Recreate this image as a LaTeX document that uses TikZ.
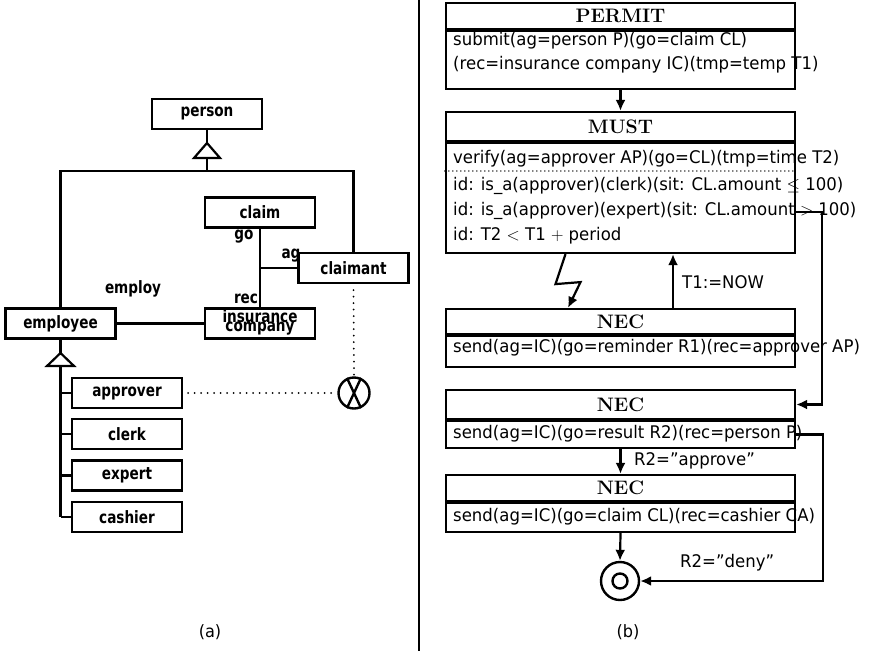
\documentclass[tikz,border=0pt]{standalone}
\usepackage{fontspec}
\newfontfamily\rsf[Ligatures=TeX,FakeStretch=0.95]{DejaVu Sans}
\newfontfamily\lsf[FakeStretch=0.8]{DejaVu Sans}
\usetikzlibrary{arrows.meta,calc}
\begin{document}
\begin{tikzpicture}[x=1pt,y=-1pt,
  ln/.style={line width=2.2pt},
  lbox/.style={draw,line width=2.2pt,minimum width=110pt,minimum height=30pt,inner sep=0pt,font=\lsf\bfseries\fontsize{17}{18}\selectfont},
  lbl/.style={inner sep=0pt,font=\lsf\bfseries\fontsize{17}{18}\selectfont},
  hdr/.style={draw,line width=2.2pt,minimum width=349pt,inner sep=0pt,font=\fontsize{19.5}{20}\selectfont\bfseries},
  bdy/.style={draw,line width=2.2pt,minimum width=349pt,inner sep=0pt},
  txt/.style={anchor=base west,inner sep=0pt,font=\rsf\fontsize{17.4}{18}\selectfont},
  arr/.style={line width=2.2pt,-{Latex[length=11pt,width=10pt]}},
  dots/.style={line width=2pt,dash pattern=on 0pt off 6.5pt,line cap=round},
]
\useasboundingbox[fill=white] (0,0) rectangle (874,651);

% ---------------- (a) ----------------
\node[lbox] (person) at (207,114) {person};
\node[lbox] (claim) at (260,212.5) {claim};
\node[lbox] (claimant) at (353.5,268) {claimant};
\node[lbox] (employee) at (60.5,323.5) {employee};
\node[lbox] (inscomp) at (260,323.5) {};
\node[lbl,anchor=base] (ins1) at (260,322) {insurance};
\node[lbl,anchor=base] (ins2) at (260,331) {company};
\node[lbox] (approver) at (127,393) {approver};
\node[lbox] (clerk) at (127,434) {clerk};
\node[lbox] (expert) at (127,475.5) {expert};
\node[lbox] (cashier) at (127,517) {cashier};

\node[lbl] (lgo) at (244,237) {go};
\node[lbl] (lag) at (291,256) {ag};
\node[lbl] (lrec) at (246,299) {rec};
\node[lbl] (lemploy) at (133,289) {employ};

\coordinate (t1a) at (207,143);
\coordinate (t1b) at (207,158);
\coordinate (hj) at (207,171);
\draw[ln] (person.south) -- (t1a);
\draw[ln,fill=white] (194,158) -- (t1a) -- (220,158) -- cycle;
\draw[ln] (t1b) -- (hj);
\draw[ln] (employee.north) |- (hj) -| (claimant.north);
\draw[ln] (claim.south) -- (inscomp.north);
\draw[ln] (claimant.west) -- (claimant.west -| claim.south);
\draw[ln] (employee.east) -- (inscomp.west);

\coordinate (t2a) at (60.5,353);
\coordinate (t2b) at (60.5,366);
\draw[ln] (employee.south) -- (t2a);
\draw[ln,fill=white] (47,366) -- (t2a) -- (74,366) -- cycle;
\draw[ln] (t2b) -- (t2b |- cashier.west);
\foreach \b in {approver,clerk,expert,cashier}
  \draw[ln] (\b.west) -- (\b.west -| t2b);

\node[draw,circle,line width=2.4pt,minimum size=31pt,inner sep=0pt] (xc) at (354,393) {};
\draw[line width=2.4pt] (xc.115) -- (xc.-65) (xc.65) -- (xc.-115);
\draw[dots] ([xshift=5pt]approver.east) -- (xc.west);
\draw[dots] ([yshift=-6pt]claimant.south) -- (xc.north);

\node[inner sep=0pt,font=\rsf\fontsize{17}{18}\selectfont] (capa) at (210,632) {(a)};

% separator
\coordinate (s1) at (419,0);
\coordinate (s2) at (419,651);
\draw[line width=2pt] (s1) -- (s2);

% ---------------- (b) ----------------
\node[hdr,minimum height=26pt] (pH) at (620.5,16) {PERMIT};
\node[bdy,minimum height=58pt] (pB) at (620.5,60) {};
\node[txt] (pt1) at (453,45) {submit(ag=person P)(go=claim CL)};
\node[txt] (pt2) at (453,69) {(rec=insurance company IC)(tmp=temp T1)};

\node[hdr,minimum height=29pt] (mH) at (620.5,126.5) {MUST};
\node[bdy,minimum height=110pt] (mB) at (620.5,198) {};
\node[txt] (mt1) at (453,163) {verify(ag=approver AP)(go=CL)(tmp=time T2)};
\draw[line width=1.6pt,dash pattern=on 0pt off 4pt,line cap=round] (mB.west |- 0,171) -- (mB.east |- 0,171);
\node[txt] (mt2) at (453,190) {id: is\_a(approver)(clerk)(sit: CL.amount $\leq$ 100)};
\node[txt] (mt3) at (453,215) {id: is\_a(approver)(expert)(sit: CL.amount $>$ 100)};
\node[txt] (mt4) at (453,240) {id: T2 $<$ T1 $+$ period};

\node[hdr,minimum height=25pt] (n1H) at (620.5,321.5) {NEC};
\node[bdy,minimum height=31pt] (n1B) at (620.5,351.5) {};
\node[txt] (n1t) at (453,352) {send(ag=IC)(go=reminder R1)(rec=approver AP)};

\node[hdr,minimum height=29pt] (n2H) at (620.5,404.5) {NEC};
\node[bdy,minimum height=27pt] (n2B) at (620.5,434.5) {};
\node[txt] (n2t) at (453,438) {send(ag=IC)(go=result R2)(rec=person P)};

\node[hdr,minimum height=26pt] (n3H) at (620.5,488) {NEC};
\node[bdy,minimum height=29pt] (n3B) at (620.5,517.5) {};
\node[txt] (n3t) at (453,521) {send(ag=IC)(go=claim CL)(rec=cashier CA)};

\node[draw,circle,line width=2.4pt,minimum size=38pt,inner sep=0pt] (fc) at (620,581) {};
\node[draw,circle,line width=2.4pt,minimum size=15pt,inner sep=0pt] (fci) at (fc.center) {};

\draw[arr] (pB.south) -- (mH.north);
\draw[arr] ([xshift=-55pt]mB.south) -- ++(-10,30) -- ++(25,-2) -- ([xshift=-52.5pt]n1H.north);
\draw[arr] ([xshift=52.5pt]n1H.north) -- ([xshift=52.5pt]mB.south);
\node[txt,anchor=west] (lnow) at (682,282) {T1:=NOW};
\draw[arr] ([yshift=-14pt]mB.east) -| ([xshift=26pt]n2H.east) -- (n2H.east);
\draw[arr] (n2B.south) -- (n3H.north);
\node[txt,anchor=west] (lapp) at (634,461) {R2=''approve''};
\draw[arr] (n3B.south) -- (fc.north);
\draw[arr] (n2B.east) -- ++(27,0) |- (fc.east);
\node[txt,anchor=west] (ldeny) at (680,563) {R2=''deny''};

\node[inner sep=0pt,font=\rsf\fontsize{17}{18}\selectfont] (capb) at (628,632) {(b)};
\end{tikzpicture}
\end{document}
